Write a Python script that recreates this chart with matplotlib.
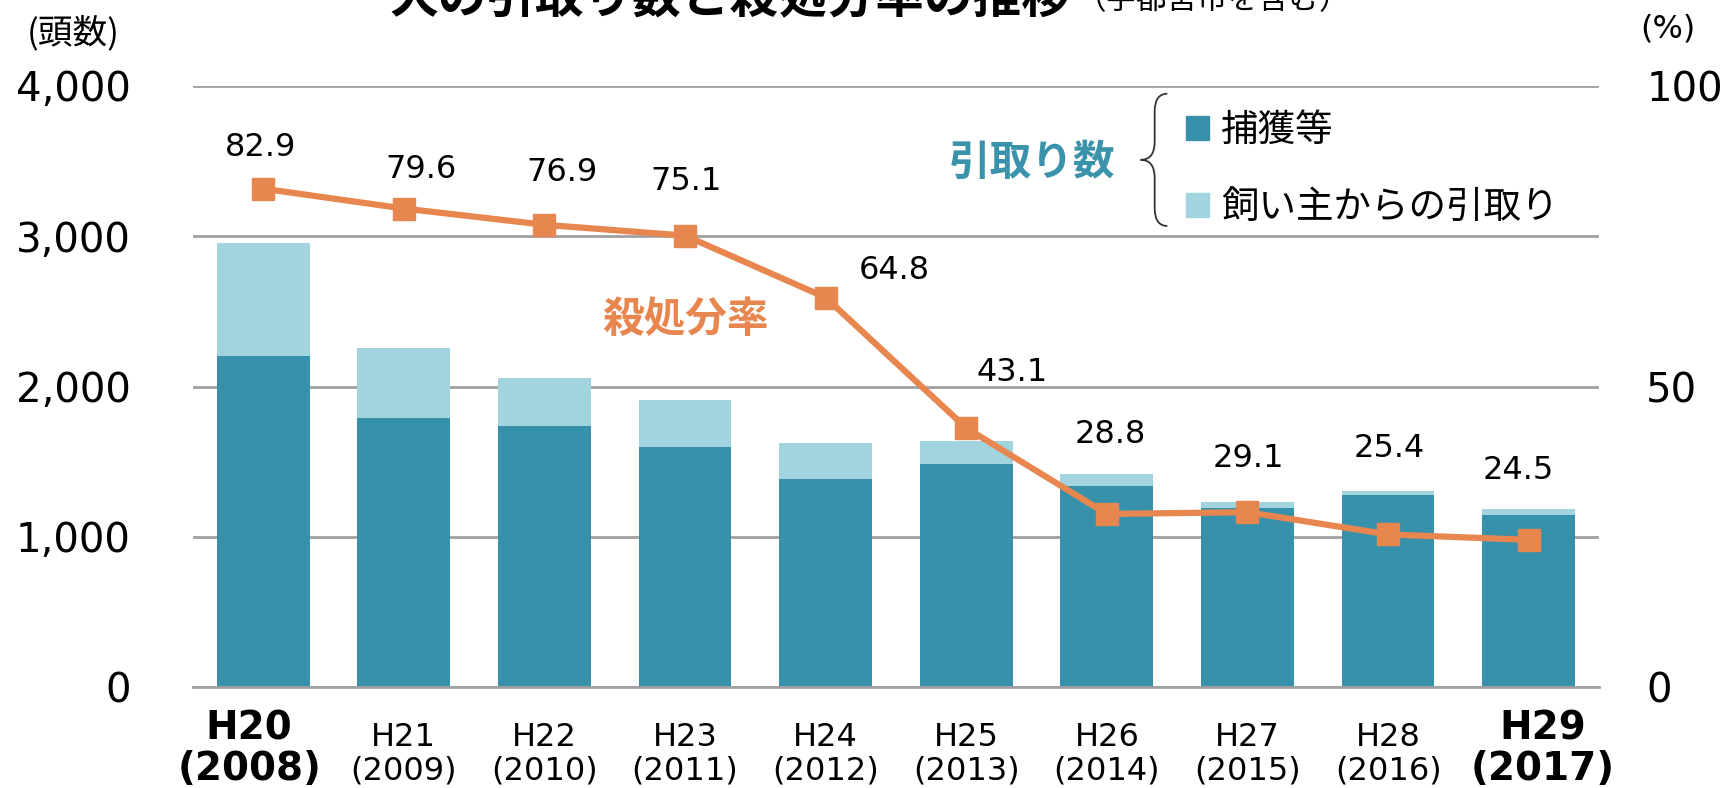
import numpy as np
import matplotlib
matplotlib.use('Agg')
import matplotlib.pyplot as plt
from matplotlib.patches import Patch, PathPatch
from matplotlib.path import Path

plt.rcParams['font.family'] = ['Noto Sans CJK JP', 'DejaVu Sans']

# ---- data ----
years = ['H20\n(2008)', 'H21\n(2009)', 'H22\n(2010)', 'H23\n(2011)', 'H24\n(2012)',
         'H25\n(2013)', 'H26\n(2014)', 'H27\n(2015)', 'H28\n(2016)', 'H29\n(2017)']
capture = [2200, 1790, 1735, 1600, 1388, 1482, 1338, 1192, 1275, 1142]      # 捕獲等
owner_total = [2955, 2255, 2058, 1908, 1622, 1636, 1421, 1230, 1308, 1182]  # 合計
owner = [t - c for t, c in zip(owner_total, capture)]                      # 飼い主からの引取り
rate = [82.9, 79.6, 76.9, 75.1, 64.8, 43.1, 28.8, 29.1, 25.4, 24.5]        # 殺処分率(%)
rate_txt = ['82.9', '79.6', '76.9', '75.1', '64.8', '43.1', '28.8', '29.1', '25.4', '24.5']
# label offsets (pixels) from each marker
lab_off = [(-3, 41), (17, 39), (18, 52), (1, 54), (69, 27), (46, 55), (3, 79), (1, 54), (1, 86), (-10, 69)]

c_dark = '#3891aa'
c_light = '#a2d4e0'
c_orange = '#e8864f'
c_grid = '#a0a0a0'

fig = plt.figure(figsize=(17.29, 7.88), dpi=100)
ax = fig.add_axes([0.1116, 0.128, 0.8132, 0.763])
x = np.arange(len(years))

ax.bar(x, capture, width=0.66, color=c_dark, zorder=2)
ax.bar(x, owner, width=0.66, bottom=capture, color=c_light, zorder=2)
ax.set_xlim(-0.5, len(years) - 0.5)
ax.set_ylim(0, 4000)
ax.set_yticks([0, 1000, 2000, 3000, 4000])
ax.set_yticklabels(['0', '1,000', '2,000', '3,000', '4,000'], family='DejaVu Sans', fontsize=29)
ax.yaxis.grid(True, color=c_grid, linewidth=2)
ax.set_axisbelow(True)
for s in ['top', 'right', 'left']:
    ax.spines[s].set_visible(False)
ax.spines['bottom'].set_color(c_grid)
ax.spines['bottom'].set_linewidth(2)
ax.tick_params(axis='y', length=0, pad=45)
ax.set_xticks(x)
ax.set_xticklabels([])
ax.tick_params(axis='x', length=0)
# category labels, first and last in bold (pushed slightly outward)
for i in range(len(years)):
    if i == 0 or i == len(years) - 1:
        shift = -0.1 if i == 0 else 0.1
        ax.text(x[i] + shift, -0.037, years[i], transform=ax.get_xaxis_transform(), ha='center', va='top',
                family='DejaVu Sans', fontsize=28, fontweight='bold', linespacing=1.08)
    else:
        ax.text(x[i], -0.058, years[i], transform=ax.get_xaxis_transform(), ha='center', va='top',
                family='DejaVu Sans', fontsize=23, linespacing=1.12)

ax2 = ax.twinx()
ax2.set_ylim(0, 100)
ax2.set_yticks([0, 50, 100])
ax2.set_yticklabels(['0', '50', '100'], family='DejaVu Sans', fontsize=29)
ax2.tick_params(axis='y', length=0, pad=34)
for s in ax2.spines.values():
    s.set_visible(False)
ax2.plot(x, rate, color=c_orange, linewidth=4.5, marker='s', markersize=16, zorder=3)
for i in range(len(rate)):
    ax2.annotate(rate_txt[i], (x[i], rate[i]), xytext=lab_off[i], textcoords='offset pixels',
                 ha='center', va='center', fontsize=23, family='DejaVu Sans')

# series captions
ax.text(0.350, 0.611, '殺処分率', transform=ax.transAxes, fontsize=30, fontweight='bold',
        color=c_orange, ha='center', va='center')
ax.text(0.597, 0.872, '引取り数', transform=ax.transAxes, fontsize=30, fontweight='bold',
        color='#3a93ab', ha='center', va='center')

# brace
xt, xm, xr = 0.674, 0.684, 0.693
yt, ym, yb = 0.987, 0.877, 0.767
r = 0.03
verts = [(xr, yt), (xm, yt), (xm, yt - r), (xm, ym + r), (xm, ym), (xt, ym),
         (xm, ym), (xm, ym - r), (xm, yb + r), (xm, yb), (xr, yb)]
codes = [Path.MOVETO, Path.CURVE3, Path.CURVE3, Path.LINETO, Path.CURVE3, Path.CURVE3,
         Path.CURVE3, Path.CURVE3, Path.LINETO, Path.CURVE3, Path.CURVE3]
ax.add_patch(PathPatch(Path(verts, codes), transform=ax.transAxes, fill=False,
                       edgecolor='#333333', linewidth=1.3, clip_on=False))

handles = [Patch(color=c_dark, label='捕獲等'), Patch(color=c_light, label='飼い主からの引取り')]
ax.legend(handles=handles, loc='upper left', bbox_to_anchor=(0.706, 0.958), frameon=False,
          fontsize=27, handlelength=0.62, handleheight=0.62, handletextpad=0.32,
          labelspacing=1.02, borderpad=0, borderaxespad=0)

# unit labels and title (title clipped at the top as in the original)
fig.text(0.0425, 0.958, '(頭数)', fontsize=25, ha='center', va='center')
fig.text(0.9647, 0.963, '(%)', fontsize=23, family='DejaVu Sans', ha='center', va='center')
fig.text(0.225, 1 - 13 / 788, '犬の引取り数と殺処分率の推移', fontsize=35, fontweight='bold',
         ha='left', va='baseline')
fig.text(0.622, 1 - 9 / 788, '（宇都宮市を含む）', fontsize=22, ha='left', va='baseline')

fig.savefig('out.png', dpi=100)
